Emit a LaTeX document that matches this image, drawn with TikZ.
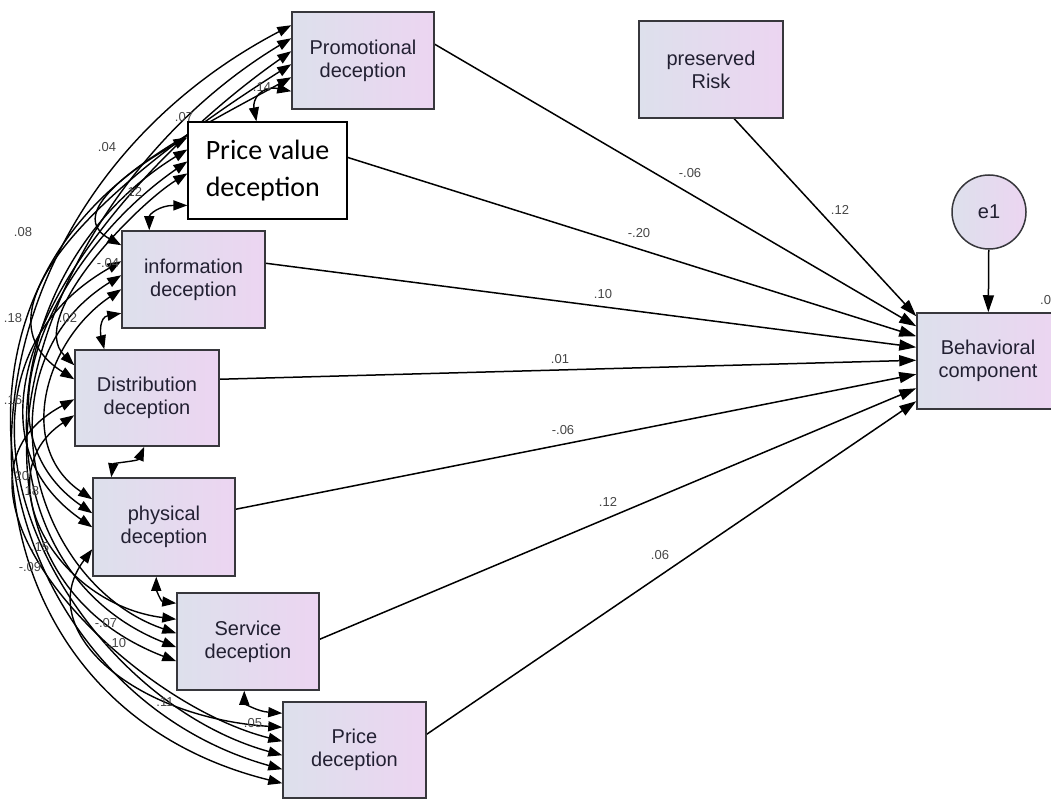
\documentclass[tikz,border=0pt]{standalone}
\usepackage{fontspec}
\setmainfont{Liberation Sans}
\newfontfamily\calib{Carlito}
\usetikzlibrary{arrows.meta,calc}
\pgfdeclarelayer{background}
\pgfsetlayers{background,main}

\definecolor{boxleft}{RGB}{221,224,236}
\definecolor{boxright}{RGB}{236,213,241}
\definecolor{boxline}{RGB}{55,55,60}
\definecolor{boxtext}{RGB}{34,32,50}
\definecolor{coeftext}{RGB}{70,70,70}

\tikzset{
  var/.style={draw=boxline, line width=1.5pt, left color=boxleft, right color=boxright,
    align=center, text=boxtext, inner sep=0pt, font=\fontsize{20}{23}\selectfont},
  textbox/.style={draw=black, line width=1.2pt, fill=white, align=left, inner sep=0pt,
    font=\calib\fontsize{28}{37}\selectfont},
  errvar/.style={circle, draw=boxline, line width=1.5pt, left color=boxleft, right color=boxright,
    text=boxtext, inner sep=0pt, minimum size=74pt, font=\fontsize{20}{23}\selectfont},
  reg/.style={line width=1.5pt, -{Triangle[length=17pt,width=11pt]}},
  cov/.style={line width=1.4pt, {Triangle[length=14pt,width=10pt]}-{Triangle[length=14pt,width=10pt]}},
  coef/.style={inner sep=0pt, text=coeftext, font=\fontsize{13}{14}\selectfont}
}

\begin{document}
\begin{tikzpicture}[x=1pt,y=-1pt]
\useasboundingbox (0,0) rectangle (1051,799);

% ---------- variables ----------
\node[var, minimum width=142pt, minimum height=97pt] (promo) at (363,60.5) {Promotional\\deception};
\node[textbox, minimum width=159pt, minimum height=97pt] (pv) at (267.5,170.5) {Price value\\deception};
\node[var, minimum width=143pt, minimum height=97pt] (info) at (193.5,279.5) {information\\deception};
\node[var, minimum width=144pt, minimum height=96pt] (dist) at (147,398) {Distribution\\deception};
\node[var, minimum width=142pt, minimum height=98pt] (phys) at (164,527) {physical\\deception};
\node[var, minimum width=142pt, minimum height=97pt] (serv) at (248,641.5) {Service\\deception};
\node[var, minimum width=143pt, minimum height=96pt] (price) at (354.5,750) {Price\\deception};
\node[var, minimum width=144pt, minimum height=97pt] (risk) at (711,69.5) {preserved\\Risk};
\node[var, minimum width=142pt, minimum height=96pt] (beh) at (988,361) {Behavioral\\component};
\node[errvar] (e1) at (989,212) {e1};

% ---------- attachment points of the covariance arcs ----------
\coordinate (c17a) at ($(promo.north west)+(0,14)$);
\coordinate (c16a) at ($(promo.north west)+(0,27)$);
\coordinate (c15a) at ($(promo.north west)+(0,40)$);
\coordinate (c14a) at ($(promo.north west)+(0,53)$);
\coordinate (c13a) at ($(promo.north west)+(0,66)$);
\coordinate (c12a) at ($(promo.north west)+(0,80)$);

\coordinate (c12b) at ($(pv.north west)+(69,0)$);
\coordinate (c27a) at ($(pv.north west)+(0,16)$);
\coordinate (c26a) at ($(pv.north west)+(0,28)$);
\coordinate (c25a) at ($(pv.north west)+(0,40)$);
\coordinate (c24a) at ($(pv.north west)+(0,52)$);
\coordinate (c23a) at ($(pv.north west)+(0,84)$);

\coordinate (c23b) at ($(info.north west)+(28,0)$);
\coordinate (c13b) at ($(info.north west)+(0,15)$);
\coordinate (c37a) at ($(info.north west)+(0,31)$);
\coordinate (c36a) at ($(info.north west)+(0,45)$);
\coordinate (c35a) at ($(info.north west)+(0,59)$);
\coordinate (c34a) at ($(info.north west)+(0,83)$);

\coordinate (c34b) at ($(dist.north west)+(30,0)$);
\coordinate (c24b) at ($(dist.north west)+(0,16)$);
\coordinate (c14b) at ($(dist.north west)+(0,30)$);
\coordinate (c47a) at ($(dist.north west)+(0,50)$);
\coordinate (c46a) at ($(dist.north west)+(0,66)$);
\coordinate (c45b) at ($(dist.south west)+(70,0)$);

\coordinate (c45a) at ($(phys.north west)+(19,0)$);
\coordinate (c35b) at ($(phys.north west)+(0,22)$);
\coordinate (c25b) at ($(phys.north west)+(0,36)$);
\coordinate (c15b) at ($(phys.north west)+(0,50)$);
\coordinate (c57a) at ($(phys.north west)+(0,72)$);
\coordinate (c56b) at ($(phys.south west)+(64,0)$);

\coordinate (c56a) at ($(serv.north west)+(0,11)$);
\coordinate (c46b) at ($(serv.north west)+(0,27)$);
\coordinate (c36b) at ($(serv.north west)+(0,41)$);
\coordinate (c26b) at ($(serv.north west)+(0,55)$);
\coordinate (c16b) at ($(serv.north west)+(0,69)$);
\coordinate (c67b) at ($(serv.south west)+(68,0)$);

\coordinate (c67a) at ($(price.north west)+(0,12)$);
\coordinate (c57b) at ($(price.north west)+(0,26)$);
\coordinate (c47b) at ($(price.north west)+(0,40)$);
\coordinate (c37b) at ($(price.north west)+(0,54)$);
\coordinate (c27b) at ($(price.north west)+(0,68)$);
\coordinate (c17b) at ($(price.north west)+(0,82)$);

% ---------- ends of the regression paths ----------
\coordinate (rRisk) at ($(risk.south west)+(96,0)$);
\coordinate (rPromo) at ($(promo.north east)+(0,33)$);
\coordinate (rPv) at ($(pv.north east)+(0,36)$);
\coordinate (rInfo) at ($(info.north east)+(0,33)$);
\coordinate (rDist) at ($(dist.north east)+(0,30)$);
\coordinate (rPhys) at ($(phys.north east)+(0,32)$);
\coordinate (rServ) at ($(serv.north east)+(0,47)$);
\coordinate (rPrice) at ($(price.north east)+(0,33)$);
\coordinate (bRisk) at ($(beh.north west)+(0,4)$);
\coordinate (bPromo) at ($(beh.north west)+(0,14)$);
\coordinate (bPv) at ($(beh.north west)+(0,24)$);
\coordinate (bInfo) at ($(beh.north west)+(0,35)$);
\coordinate (bDist) at ($(beh.north west)+(0,48)$);
\coordinate (bPhys) at ($(beh.north west)+(0,62)$);
\coordinate (bServ) at ($(beh.north west)+(0,76)$);
\coordinate (bPrice) at ($(beh.north west)+(0,89)$);

\begin{pgfonlayer}{background}
% regression paths
\draw[reg] (rRisk) -- (bRisk);
\draw[reg] (rPromo) -- (bPromo);
\draw[reg] (rPv) -- (bPv);
\draw[reg] (rInfo) -- (bInfo);
\draw[reg] (rDist) -- (bDist);
\draw[reg] (rPhys) -- (bPhys);
\draw[reg] (rServ) -- (bServ);
\draw[reg] (rPrice) -- (bPrice);
\draw[reg] (e1) -- (beh);

% covariances between the exogenous variables
\draw[cov] (c13a) .. controls +(-76,42) and +(-76,-42) .. (c13b);
\draw[cov] (c14a) .. controls +(-125,79) and +(-125,-79) .. (c14b);
\draw[cov] (c15a) .. controls +(-170,119) and +(-170,-119) .. (c15b);
\draw[cov] (c16a) .. controls +(-259,156) and +(-259,-100) .. (c16b);
\draw[cov] (c17a) .. controls +(-363,190) and +(-363,-90) .. (c17b);
\draw[cov] (c24a) .. controls +(-49,30) and +(-49,-48) .. (c24b);
\draw[cov] (c25a) .. controls +(-127,88) and +(-127,-88) .. (c25b);
\draw[cov] (c26a) .. controls +(-203,125) and +(-203,-80) .. (c26b);
\draw[cov] (c27a) .. controls +(-287,158) and +(-287,-80) .. (c27b);
\draw[cov] (c35a) .. controls +(-77,52) and +(-77,-52) .. (c35b);
\draw[cov] (c36a) .. controls +(-146,90) and +(-146,-50) .. (c36b);
\draw[cov] (c37a) .. controls +(-217,124) and +(-217,-60) .. (c37b);
\draw[cov] (c46a) .. controls +(-90,60) and +(-120,-15) .. (c46b);
\draw[cov] (c47a) .. controls +(-159,86) and +(-159,-40) .. (c47b);
\draw[cov] (c57a) .. controls +(-60,80) and +(-150,-10) .. (c57b);
% neighbouring pairs
\draw[cov] (c12a) .. controls +(-30,-6) and +(-4,-22) .. (c12b);
\draw[cov] (c23a) .. controls +(-28,0) and +(0,-16) .. (c23b);
\draw[cov] (c34a) .. controls +(-22,4) and +(-4,-16) .. (c34b);
\draw[cov] (c45a) .. controls +(2,-14) and +(-6,14) .. (c45b);
\draw[cov] (c56a) .. controls +(-16,-2) and +(0,12) .. (c56b);
\draw[cov] (c67a) .. controls +(-26,-2) and +(0,12) .. (c67b);
\end{pgfonlayer}

% ---------- path coefficients ----------
\node[coef] (kRisk) at (840,210) {.12};
\node[coef] (kPromo) at (690,173) {-.06};
\node[coef] (kPv) at (639,233) {-.20};
\node[coef] (kInfo) at (603,294) {.10};
\node[coef] (kDist) at (560,359) {.01};
\node[coef] (kPhys) at (563,430) {-.06};
\node[coef] (kServ) at (608,502) {.12};
\node[coef] (kPrice) at (660,555) {.06};
\node[coef, anchor=west] (kR2) at (1040,300) {.03};

% ---------- covariance values ----------
\node[coef] (v1) at (262,87) {.14};
\node[coef] (v2) at (184,117) {.07};
\node[coef] (v3) at (107,147) {.04};
\node[coef] (v4) at (133,192) {.12};
\node[coef] (v5) at (23,232) {.08};
\node[coef] (v6) at (108,263) {-.04};
\node[coef] (v7) at (68,318) {.02};
\node[coef] (v8) at (13,318) {.18};
\node[coef] (v9) at (13,400) {.16};
\node[coef] (v10) at (20,476) {.20};
\node[coef] (v11) at (30,491) {.18};
\node[coef] (v12) at (40,547) {.15};
\node[coef] (v13) at (30,567) {-.09};
\node[coef] (v14) at (106,623) {-.07};
\node[coef] (v15) at (115,643) {-.10};
\node[coef] (v16) at (165,702) {.11};
\node[coef] (v17) at (253,723) {.05};
\end{tikzpicture}
\end{document}
